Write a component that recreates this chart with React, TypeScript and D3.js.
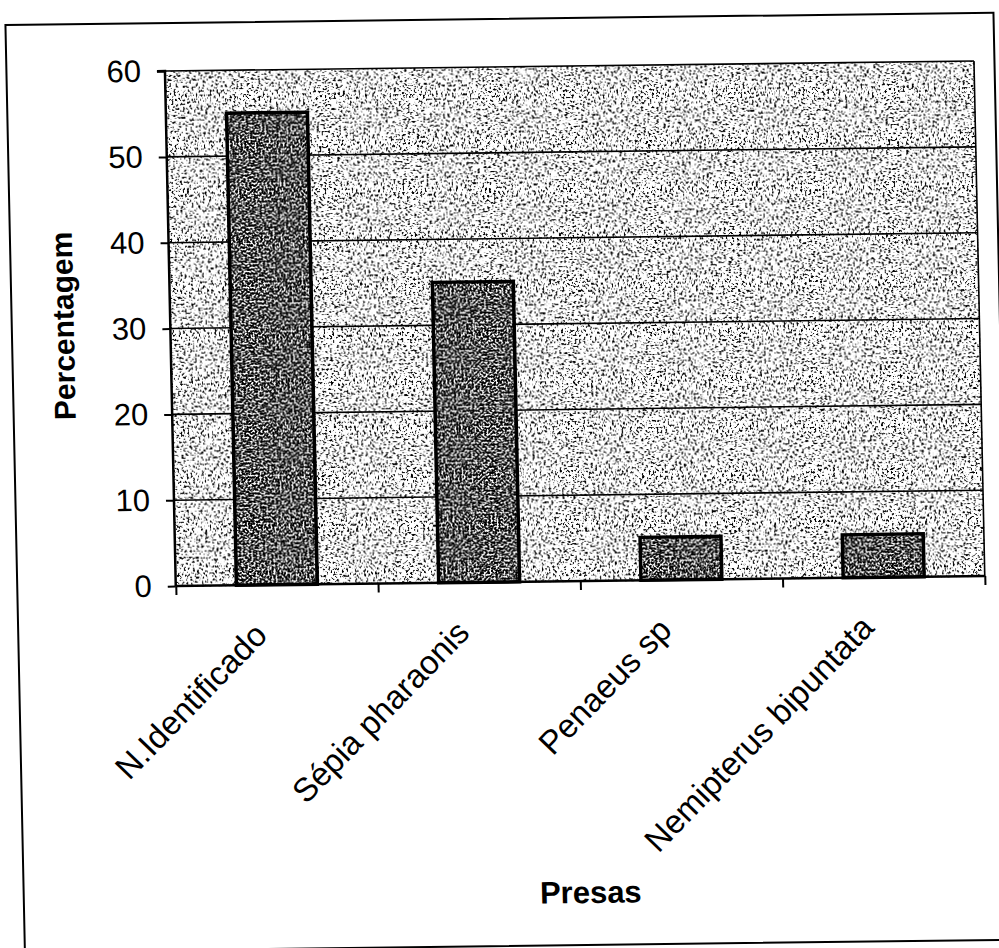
import { useRef, useEffect } from 'react';
import * as d3 from 'd3';

const categories = ['N.Identificado', 'Sépia pharaonis', 'Penaeus sp', 'Nemipterus bipuntata'];
const values = [55, 35, 5, 5];
const yTicks = [0, 10, 20, 30, 40, 50, 60];
const yTitle = 'Percentagem';
const xTitle = 'Presas';

const FONT = '"Liberation Sans", Arial, Helvetica, sans-serif';

export default function App() {
    const ref = useRef<SVGSVGElement>(null);

    useEffect(() => {
        if (!ref.current) return;
        const svg = d3.select(ref.current);
        svg.selectAll('*').remove();

        const width = 999;
        const height = 948;
        const plot = { left: 173.5, right: 982.5, top: 67, bottom: 582 };

        const defs = svg.append('defs');

        // scanned stipple texture, made from svg noise
        const speckle = (id: string, slope: number, intercept: number, freq: number, seed: number) => {
            const f = defs.append('filter')
                .attr('id', id)
                .attr('x', 0).attr('y', 0).attr('width', 1).attr('height', 1)
                .attr('color-interpolation-filters', 'sRGB');
            f.append('feTurbulence')
                .attr('type', 'fractalNoise')
                .attr('baseFrequency', freq)
                .attr('numOctaves', 2)
                .attr('seed', seed)
                .attr('result', 'noise');
            f.append('feColorMatrix')
                .attr('in', 'noise')
                .attr('type', 'matrix')
                .attr('values', '0 0 0 0 0  0 0 0 0 0  0 0 0 0 0  1 0 0 0 0')
                .attr('result', 'r');
            f.append('feComponentTransfer')
                .attr('in', 'r')
                .attr('result', 'mask')
                .append('feFuncA')
                .attr('type', 'linear')
                .attr('slope', slope)
                .attr('intercept', intercept);
            f.append('feFlood').attr('flood-color', '#000').attr('result', 'ink');
            f.append('feComposite')
                .attr('in', 'ink').attr('in2', 'mask').attr('operator', 'in')
                .attr('result', 'dots');
            f.append('feFlood').attr('flood-color', '#fff').attr('result', 'paper');
            const m = f.append('feMerge');
            m.append('feMergeNode').attr('in', 'paper');
            m.append('feMergeNode').attr('in', 'dots');
        };
        speckle('bgSpeckle', 9, -5.0, 0.45, 3);
        speckle('barSpeckle', 6, -2.3, 0.5, 11);

        svg.append('rect')
            .attr('width', width)
            .attr('height', height)
            .attr('fill', '#fff');

        // the scan is slightly skewed
        const g = svg.append('g')
            .attr('transform', 'translate(500,474) matrix(1,-0.0124,0.021,1,0,0) translate(-500,-474)');

        // outer frame
        g.append('rect')
            .attr('x', 15)
            .attr('y', 19)
            .attr('width', 988)
            .attr('height', 927)
            .attr('fill', 'none')
            .attr('stroke', '#000')
            .attr('stroke-width', 2);

        // Scales
        const x = d3.scaleBand<string>()
            .domain(categories)
            .range([plot.left, plot.right])
            .paddingInner(0.6)
            .paddingOuter(0.3);

        const xEdges = d3.scaleLinear()
            .domain([0, categories.length])
            .range([plot.left, plot.right]);

        const y = d3.scaleLinear()
            .domain([0, 60])
            .range([plot.bottom, plot.top]);

        // plot background
        g.append('rect')
            .attr('x', plot.left)
            .attr('y', plot.top)
            .attr('width', plot.right - plot.left)
            .attr('height', plot.bottom - plot.top)
            .attr('fill', '#fff')
            .attr('filter', 'url(#bgSpeckle)');

        // gridlines
        g.selectAll('.grid')
            .data(yTicks.filter(t => t > 0))
            .enter()
            .append('line')
            .attr('x1', plot.left)
            .attr('x2', plot.right)
            .attr('y1', d => y(d))
            .attr('y2', d => y(d))
            .attr('stroke', '#000')
            .attr('stroke-width', 1.6);

        // right border of plot
        g.append('line')
            .attr('x1', plot.right).attr('x2', plot.right)
            .attr('y1', plot.top).attr('y2', plot.bottom)
            .attr('stroke', '#000')
            .attr('stroke-width', 1.6);

        // Bars
        const bars = g.selectAll('.bar')
            .data(values)
            .enter()
            .append('g');

        bars.append('rect')
            .attr('x', (_, i) => x(categories[i])!)
            .attr('y', d => y(d))
            .attr('width', x.bandwidth())
            .attr('height', d => y(0) - y(d))
            .attr('fill', '#fff')
            .attr('filter', 'url(#barSpeckle)');

        bars.append('rect')
            .attr('x', (_, i) => x(categories[i])!)
            .attr('y', d => y(d))
            .attr('width', x.bandwidth())
            .attr('height', d => y(0) - y(d))
            .attr('fill', 'none')
            .attr('stroke', '#000')
            .attr('stroke-width', 3.5);

        // Axes
        const yAxis = g.append('g')
            .attr('transform', `translate(${plot.left},0)`)
            .call(d3.axisLeft(y).tickValues(yTicks).tickSize(8).tickPadding(16).tickFormat(d => `${d}`));

        yAxis.selectAll('text')
            .attr('fill', '#000')
            .style('font-family', FONT)
            .style('font-size', '31px');

        const xAxis = g.append('g')
            .attr('transform', `translate(0,${plot.bottom})`)
            .call(d3.axisBottom(xEdges).tickValues(d3.range(categories.length + 1)).tickSize(9).tickFormat(() => ''));

        g.selectAll('.domain')
            .attr('stroke', '#000')
            .attr('stroke-width', 2.5);
        g.selectAll('.tick line')
            .attr('stroke', '#000')
            .attr('stroke-width', 2);
        yAxis.select('.domain').attr('d', `M-8,${plot.top}H0V${plot.bottom}`);
        xAxis.select('.domain').attr('d', `M${plot.left},0H${plot.right}`);

        // category labels
        g.selectAll('.cat')
            .data(categories)
            .enter()
            .append('text')
            .attr('transform', d => `translate(${x(d)! + x.bandwidth() / 2 - 9},${plot.bottom + 52}) rotate(-45)`)
            .attr('text-anchor', 'end')
            .attr('fill', '#000')
            .style('font-family', FONT)
            .style('font-size', '33px')
            .text(d => d);

        // titles
        g.append('text')
            .attr('transform', `translate(77,${(plot.top + plot.bottom) / 2 - 4}) rotate(-90)`)
            .attr('text-anchor', 'middle')
            .attr('fill', '#000')
            .style('font-family', FONT)
            .style('font-size', '30px')
            .style('font-weight', 'bold')
            .text(yTitle);

        g.append('text')
            .attr('x', (plot.left + plot.right) / 2 + 4)
            .attr('y', 904)
            .attr('text-anchor', 'middle')
            .attr('fill', '#000')
            .style('font-family', FONT)
            .style('font-size', '31px')
            .style('font-weight', 'bold')
            .text(xTitle);
    }, []);

    return (
        <svg
            ref={ref}
            width={999}
            height={948}
            style={{ position: 'absolute', left: 0, top: 0, display: 'block' }}
        ></svg>
    );
}
